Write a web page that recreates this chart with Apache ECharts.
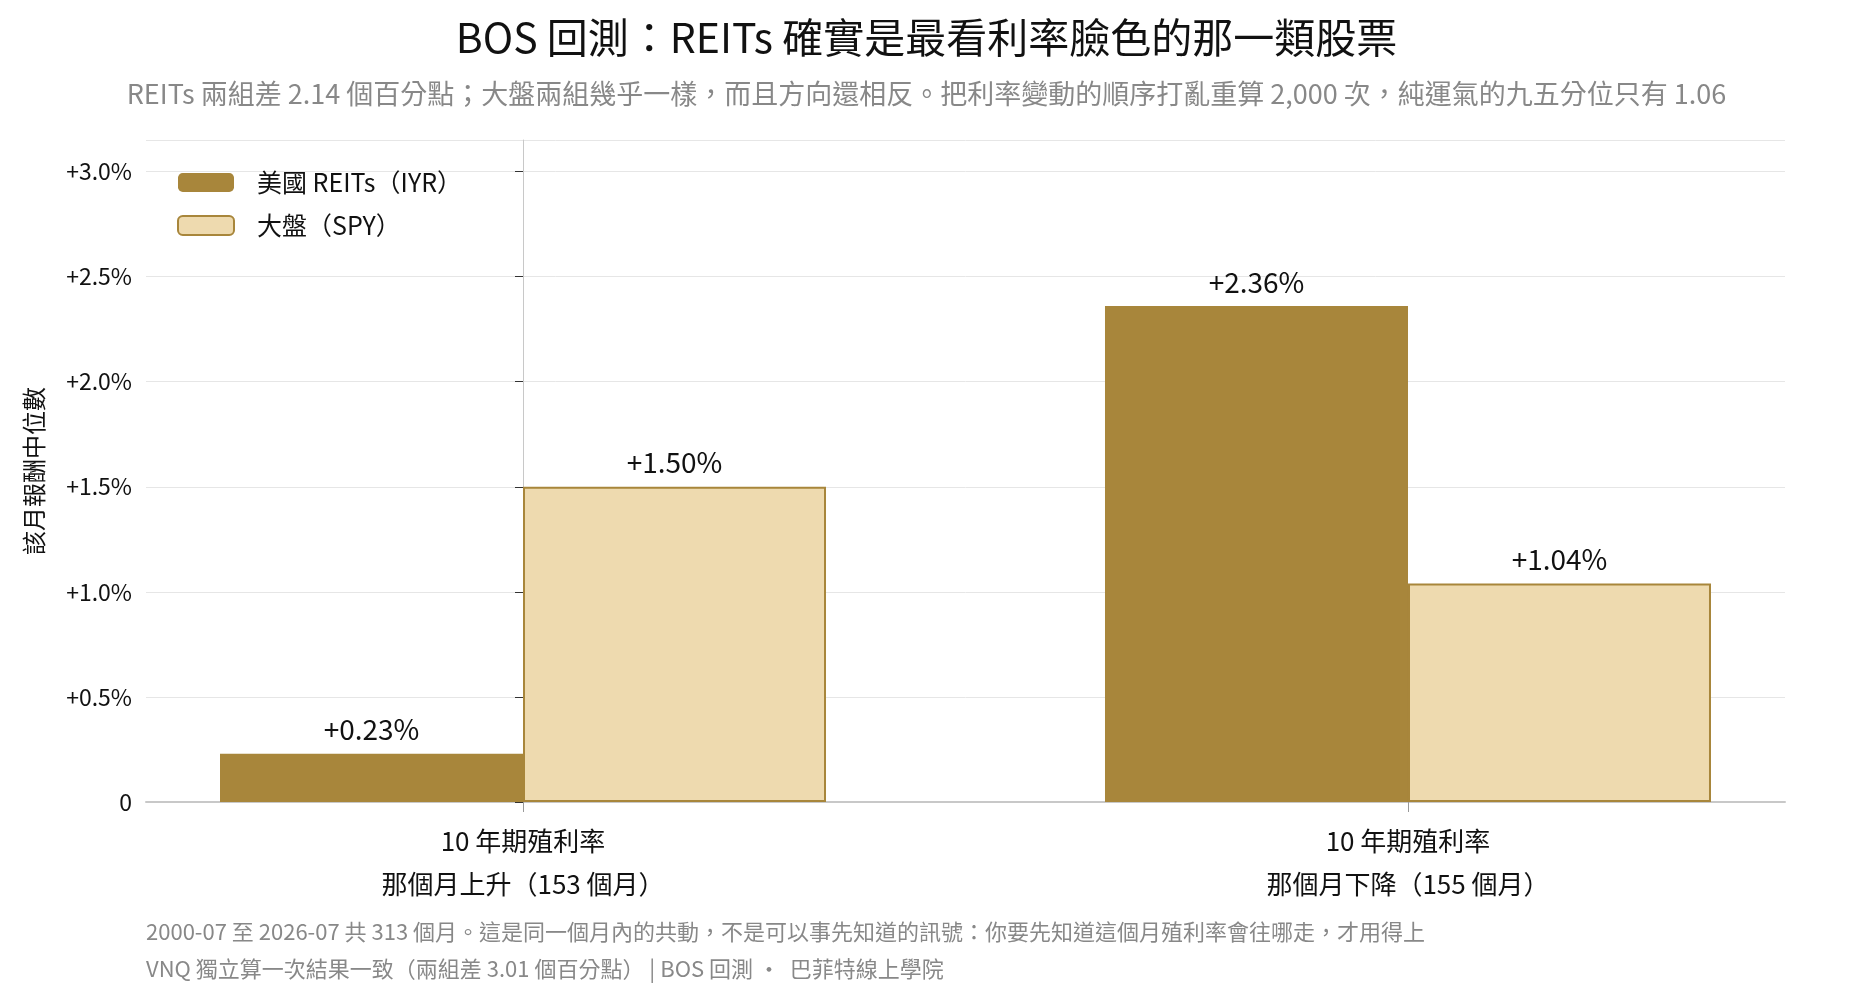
<!DOCTYPE html>
<html><head><meta charset="utf-8">
<script src="https://cdn.jsdelivr.net/npm/echarts@6/dist/echarts.min.js"></script>
<style>html,body{margin:0;padding:0;background:#fff}#c{width:1853px;height:996px}</style>
</head><body><div id="c"></div>
<script>
const categories = ['10 年期殖利率\n那個月上升（153 個月）', '10 年期殖利率\n那個月下降（155 個月）'];
const reitsValues = [0.23, 2.36];
const spyValues = [1.50, 1.04];
const seriesNames = ['美國 REITs（IYR）', '大盤（SPY）'];
const F = '"Noto Sans CJK TC", "Noto Sans", sans-serif';
const chart = echarts.init(document.getElementById('c'));
const lbl = {show:true, position:'top', distance:10, fontSize:28, color:'#111', fontFamily:F,
  formatter: p => '+' + p.value[1].toFixed(2) + '%'};
const idx = categories.map((c,i)=>i);
chart.setOption({
  animation:false,
  textStyle:{fontFamily:F},
  title:{text:'BOS 回測：REITs 確實是最看利率臉色的那一類股票',
    subtext:'REITs 兩組差 2.14 個百分點；大盤兩組幾乎一樣，而且方向還相反。把利率變動的順序打亂重算 2,000 次，純運氣的九五分位只有 1.06',
    left:'center', top:12, itemGap:22,
    textStyle:{fontSize:41, fontWeight:'normal', color:'#111', fontFamily:F},
    subtextStyle:{fontSize:27, color:'#888', fontFamily:F}},
  legend:{left:172, top:165, orient:'vertical', itemWidth:56, itemHeight:19, itemGap:18,
    textStyle:{fontSize:25, color:'#111', fontFamily:F, padding:[0,0,0,18]}, data:seriesNames},
  grid:{left:146, right:68, top:140, bottom:194},
  xAxis:{type:'value', min:-0.426, max:1.426,
    splitLine:{show:false},
    axisLine:{onZero:false, lineStyle:{color:'#c8c8c8', width:2}},
    axisTick:{show:true, length:10, customValues:idx, lineStyle:{color:'#999'}},
    axisLabel:{fontSize:26, color:'#111', lineHeight:43, margin:18, fontFamily:F,
      customValues:idx, formatter: v => categories[Math.round(v)] || ''}},
  yAxis:{type:'value', min:0, max:3.15, interval:0.5,
    name:'該月報酬中位數', nameLocation:'middle', nameGap:100, nameRotate:90,
    nameTextStyle:{fontSize:24, color:'#111', fontFamily:F},
    axisLine:{show:true, lineStyle:{color:'#c8c8c8'}},
    axisTick:{show:true, length:8, lineStyle:{color:'#333'}},
    splitLine:{lineStyle:{color:'#e6e6e6'}},
    axisLabel:{fontSize:23, color:'#111', margin:14, fontFamily:F, showMaxLabel:false,
      formatter: v => v === 0 ? '0' : '+' + v.toFixed(1) + '%'}},
  series:[
    {name:seriesNames[0], type:'bar', data:idx.map(i=>[i, reitsValues[i]]), barWidth:303, barGap:'0%',
      itemStyle:{color:'#A8863B'}, label:lbl},
    {name:seriesNames[1], type:'bar', data:idx.map(i=>[i, spyValues[i]]), barWidth:303,
      itemStyle:{color:'#EEDAAF', borderColor:'#A8863B', borderWidth:2}, label:lbl}
  ],
  graphic:[
    {type:'text', left:146, top:921, style:{text:'2000-07 至 2026-07 共 313 個月。這是同一個月內的共動，不是可以事先知道的訊號：你要先知道這個月殖利率會往哪走，才用得上', fontSize:22, fill:'#888', fontFamily:F}},
    {type:'text', left:146, top:958, style:{text:'VNQ 獨立算一次結果一致（兩組差 3.01 個百分點） | BOS 回測 ·  巴菲特線上學院', fontSize:22, fill:'#888', fontFamily:F}}
  ]
});
</script></body></html>
